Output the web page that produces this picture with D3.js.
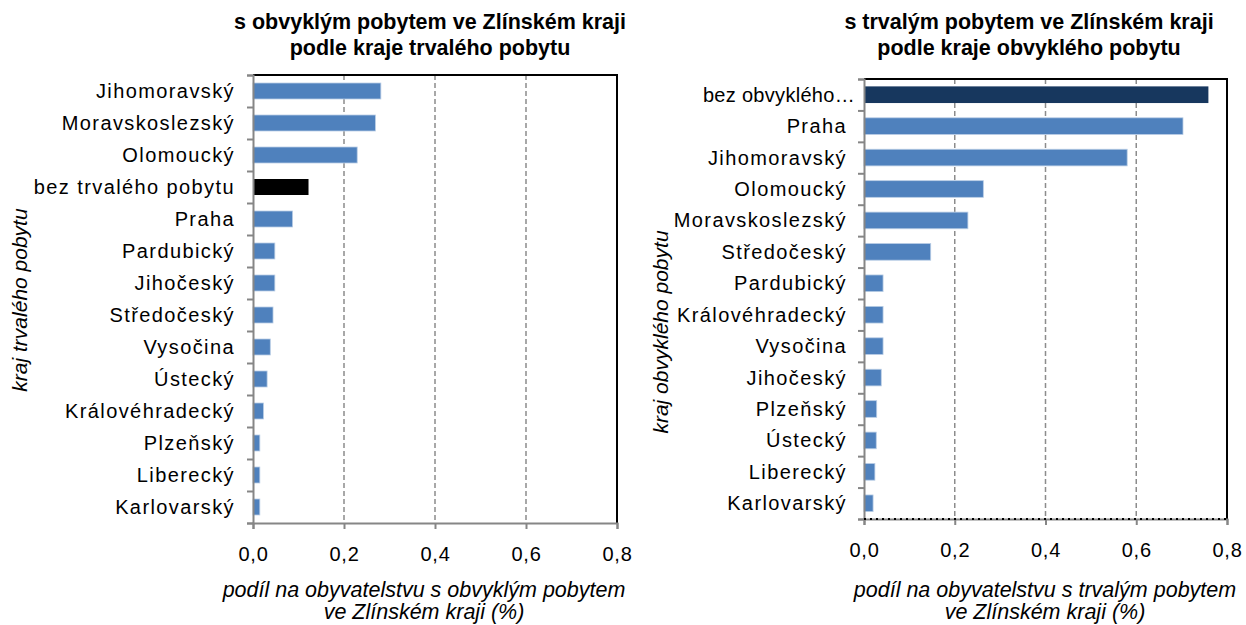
<!DOCTYPE html>
<html>
<head>
<meta charset="utf-8">
<script src="https://cdn.jsdelivr.net/npm/d3@7"></script>
<style>
  body { margin: 0; background: #fff; }
  text { font-family: "Liberation Sans", Arial, sans-serif; fill: #000; }
</style>
</head>
<body>
<div id="chart"></div>
<script>
// data: share in %
const leftCategories = ["Jihomoravský", "Moravskoslezský", "Olomoucký", "bez trvalého pobytu", "Praha",
  "Pardubický", "Jihočeský", "Středočeský", "Vysočina", "Ústecký", "Královéhradecký", "Plzeňský",
  "Liberecký", "Karlovarský"];
const leftValues = [0.281, 0.269, 0.229, 0.122, 0.087, 0.048, 0.048, 0.044, 0.038, 0.031, 0.023, 0.015, 0.015, 0.015];

const rightCategories = ["bez obvyklého…", "Praha", "Jihomoravský", "Olomoucký", "Moravskoslezský",
  "Středočeský", "Pardubický", "Královéhradecký", "Vysočina", "Jihočeský", "Plzeňský", "Ústecký",
  "Liberecký", "Karlovarský"];
const rightValues = [0.759, 0.703, 0.580, 0.263, 0.229, 0.147, 0.042, 0.042, 0.042, 0.038, 0.028, 0.027, 0.024, 0.020];

const xTicks = [0, 0.2, 0.4, 0.6, 0.8];

const width = 1246, height = 625;
const svg = d3.select("#chart").append("svg")
  .attr("width", width)
  .attr("height", height);

function drawPanel(opt) {
  const data = opt.categories.map((c, i) => ({ name: c, value: opt.values[i] }));

  const x = d3.scaleLinear().domain([0, 0.8]).range([opt.left, opt.right]);
  const y = d3.scaleBand().domain(opt.categories).range([opt.top, opt.bottom])
    .paddingInner(opt.pad).paddingOuter(opt.pad / 2);
  const yTickScale = d3.scaleLinear().domain([0, opt.categories.length]).range([opt.top, opt.bottom]);

  const g = svg.append("g");

  // title
  g.append("g").selectAll("text")
    .data(opt.title)
    .enter().append("text")
    .attr("x", opt.titleX)
    .attr("y", (d, i) => 29 + i * 26)
    .attr("text-anchor", "middle")
    .attr("font-size", "21.5px")
    .attr("font-weight", "bold")
    .text(d => d);

  // dashed gridlines
  g.selectAll("line.grid")
    .data(xTicks.slice(1, -1))
    .enter().append("line")
    .attr("class", "grid")
    .attr("x1", d => x(d)).attr("x2", d => x(d))
    .attr("y1", opt.top).attr("y2", opt.bottom)
    .attr("stroke", "#8c8c8c")
    .attr("stroke-width", 1.5)
    .attr("stroke-dasharray", "5,3");

  // bars
  g.selectAll("rect.bar")
    .data(data)
    .enter().append("rect")
    .attr("class", "bar")
    .attr("x", x(0))
    .attr("y", d => y(d.name))
    .attr("width", d => x(d.value) - x(0))
    .attr("height", y.bandwidth())
    .attr("fill", d => d.name === opt.highlight ? opt.highlightColor : "#4f81bd")
    .attr("stroke", d => d.name === opt.highlight ? "none" : "#b9cde5")
    .attr("stroke-width", 0.8);

  // plot border (top + right)
  g.append("path")
    .attr("d", `M${opt.left},${opt.top}H${opt.right}V${opt.bottom}`)
    .attr("fill", "none")
    .attr("stroke", "#000")
    .attr("stroke-width", 2);

  // y axis
  const yAxis = g.append("g")
    .attr("transform", `translate(${opt.left},0)`)
    .call(d3.axisLeft(yTickScale).ticks(opt.categories.length).tickSize(6).tickFormat(""));
  yAxis.selectAll("path, line").attr("stroke", "#868686").attr("stroke-width", 2);

  // x axis
  const xAxis = g.append("g")
    .attr("transform", `translate(0,${opt.bottom})`)
    .call(d3.axisBottom(x).tickValues(xTicks).tickSize(6).tickPadding(18)
      .tickFormat(d => d3.format(".1f")(d).replace(".", ",")));
  xAxis.select(".domain").attr("stroke", "#868686").attr("stroke-width", 2);
  xAxis.selectAll(".tick line").attr("stroke", "#868686").attr("stroke-width", 2);
  xAxis.selectAll(".tick text")
    .attr("font-size", "20px")
    .attr("font-family", "Liberation Sans, Arial, sans-serif")
    .attr("letter-spacing", "0.8px")
    .attr("fill", "#000");

  if (opt.dottedBottom) {
    g.append("line")
      .attr("x1", opt.left).attr("x2", opt.right)
      .attr("y1", opt.bottom).attr("y2", opt.bottom)
      .attr("stroke", "#000")
      .attr("stroke-width", 2)
      .attr("stroke-dasharray", "2,4");
  }

  // category labels (the truncated one is set tighter, as in the original)
  g.selectAll("text.cat")
    .data(data)
    .enter().append("text")
    .attr("class", "cat")
    .attr("x", d => opt.left - opt.labelGap + (d.name.endsWith("…") ? 8 : 0))
    .attr("y", d => y(d.name) + y.bandwidth() / 2)
    .attr("dy", "0.35em")
    .attr("text-anchor", "end")
    .attr("font-size", "20px")
    .attr("letter-spacing", d => d.name.endsWith("…") ? "0.3px" : "1.4px")
    .text(d => d.name);

  // y axis title
  g.append("text")
    .attr("transform", `translate(${opt.yTitleX},${opt.yTitleY}) rotate(-90)`)
    .attr("text-anchor", "middle")
    .attr("font-size", "21px")
    .attr("font-style", "italic")
    .text(opt.yTitle);

  // x axis title
  g.append("g").selectAll("text")
    .data(opt.xTitle)
    .enter().append("text")
    .attr("x", opt.xTitleX)
    .attr("y", (d, i) => 597 + i * 22)
    .attr("text-anchor", "middle")
    .attr("font-size", "21.5px")
    .attr("font-style", "italic")
    .text(d => d);
}

drawPanel({
  categories: leftCategories,
  values: leftValues,
  highlight: "bez trvalého pobytu",
  highlightColor: "#000000",
  left: 253, right: 617, top: 75, bottom: 523, pad: 0.5,
  labelGap: 18,
  title: ["s obvyklým pobytem ve Zlínském kraji", "podle kraje trvalého pobytu"],
  titleX: 430,
  yTitle: "kraj trvalého pobytu", yTitleX: 27, yTitleY: 300,
  xTitle: ["podíl na obyvatelstvu s obvyklým pobytem", "ve Zlínském kraji  (%)"],
  xTitleX: 424
});

drawPanel({
  categories: rightCategories,
  values: rightValues,
  highlight: "bez obvyklého…",
  highlightColor: "#17375e",
  left: 864, right: 1227, top: 79, bottom: 519, pad: 0.47,
  labelGap: 17,
  title: ["s trvalým pobytem ve Zlínském kraji", "podle kraje obvyklého pobytu"],
  titleX: 1029,
  yTitle: "kraj obvyklého pobytu", yTitleX: 668, yTitleY: 332,
  xTitle: ["podíl na obyvatelstvu s trvalým pobytem", "ve Zlínském kraji (%)"],
  xTitleX: 1045,
  dottedBottom: true
});
</script>
</body>
</html>
